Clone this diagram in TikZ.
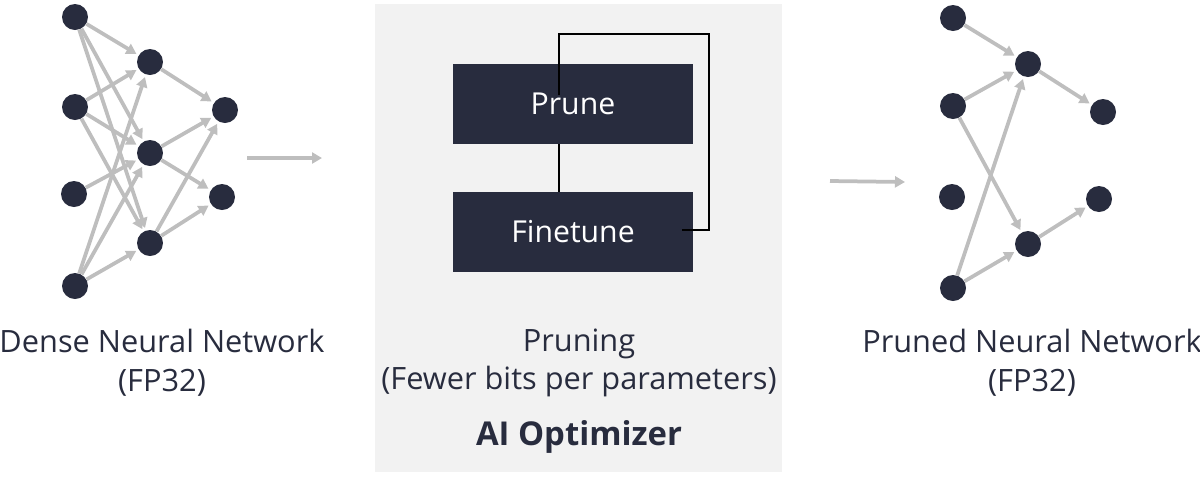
\documentclass[tikz,border=0pt]{standalone}
\usepackage{fontspec}
\setmainfont{Open Sans}
\usepackage{tikz}
\usetikzlibrary{arrows.meta, positioning, calc, backgrounds}
\definecolor{navy}{RGB}{40,44,62}
\definecolor{edgegray}{RGB}{190,190,190}
\definecolor{panelgray}{RGB}{242,242,242}

\begin{document}
\begin{tikzpicture}[
    x=0.02cm, y=-0.02cm,
    neuron/.style={circle, fill=navy, minimum size=0.52cm, inner sep=0pt},
    edge/.style={-{Triangle[length=0.2cm, width=0.22cm]}, line width=0.075cm, draw=edgegray, shorten >=0.05cm},
    stage/.style={rectangle, fill=navy, minimum width=4.8cm, minimum height=1.6cm, text=white, font=\fontsize{17.2}{20}\selectfont},
    fb/.style={draw=black, line width=1.1pt},
    caption/.style={align=center, text=navy, font=\fontsize{17.5}{22}\selectfont},
]
\useasboundingbox (0,0) rectangle (1200,478);

% Panel
\fill[panelgray] (375,4) rectangle (782,472);

% Dense network
\node[neuron] (d1a) at (75,17) {};
\node[neuron] (d1b) at (75,107) {};
\node[neuron] (d1c) at (74,194) {};
\node[neuron] (d1d) at (75,286) {};
\node[neuron] (d2a) at (150,62) {};
\node[neuron] (d2b) at (150,153) {};
\node[neuron] (d2c) at (150,243) {};
\node[neuron] (d3a) at (225,110) {};
\node[neuron] (d3b) at (222,197) {};

\draw[edge] (d1a) -- (d2a);
\draw[edge] (d1a) -- (d2b);
\draw[edge] (d1a) -- (d2c);
\draw[edge] (d1b) -- (d2a);
\draw[edge] (d1b) -- (d2b);
\draw[edge] (d1b) -- (d2c);
\draw[edge] (d1c) -- (d2b);
\draw[edge] (d1d) -- (d2a);
\draw[edge] (d1d) -- (d2b);
\draw[edge] (d1d) -- (d2c);
\draw[edge] (d2a) -- (d3a);
\draw[edge] (d2b) -- (d3a);
\draw[edge] (d2b) -- (d3b);
\draw[edge] (d2c) -- (d3a);
\draw[edge] (d2c) -- (d3b);

% Optimizer
\node[stage] (prune) at (573,104) {Prune};
\node[stage] (finetune) at (573,232) {Finetune};
\coordinate (loopin) at ($(prune.center)+(-14,-9)$);
\draw[fb] (loopin) -- ++(0,-61) -- ++(150,0) -- ++(0,196) -- ++(-27,0);
\draw[fb] ($(prune.south)+(-14,0)$) -- ($(finetune.north)+(-14,0)$);

% Pruned network
\node[neuron] (p1a) at (953,18) {};
\node[neuron] (p1b) at (953,106) {};
\node[neuron] (p1c) at (952,197) {};
\node[neuron] (p1d) at (953,288) {};
\node[neuron] (p2a) at (1028,64) {};
\node[neuron] (p2b) at (1028,244) {};
\node[neuron] (p3a) at (1103,112) {};
\node[neuron] (p3b) at (1099,199) {};

\draw[edge] (p1a) -- (p2a);
\draw[edge] (p1b) -- (p2a);
\draw[edge] (p1b) -- (p2b);
\draw[edge] (p1d) -- (p2a);
\draw[edge] (p1d) -- (p2b);
\draw[edge] (p2a) -- (p3a);
\draw[edge] (p2b) -- (p3b);

% Flow
\coordinate (in1) at (247,158);
\coordinate (out1) at (322,158);
\coordinate (in2) at (830,181);
\coordinate (out2) at (905,182);
\draw[edge, shorten >=0pt] (in1) -- (out1);
\draw[edge, shorten >=0pt] (in2) -- (out2);

% Labels
\node[caption] (densetxt) at (162,363) {Dense Neural Network\\(FP32)};
\node[caption] (prunetxt) at (579,363) {Pruning\\(Fewer bits per parameters)};
\node[caption, font=\fontsize{18.7}{22}\selectfont\bfseries] (optim) at (579,437) {AI Optimizer};
\node[caption] (prunedtxt) at (1032,363) {Pruned Neural Network\\(FP32)};
\end{tikzpicture}
\end{document}
